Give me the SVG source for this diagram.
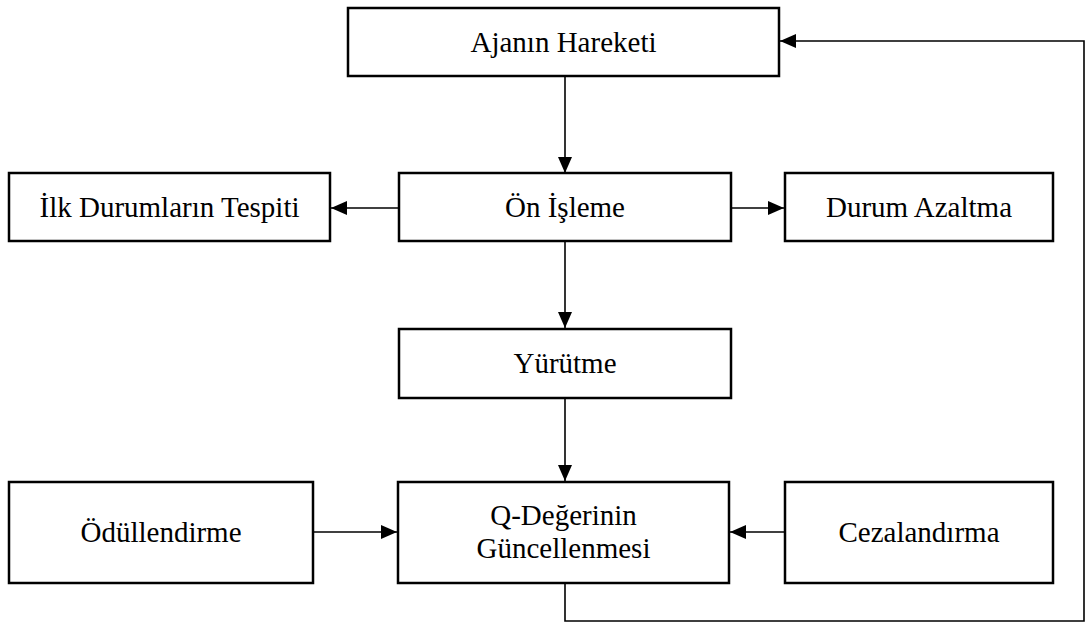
<svg xmlns="http://www.w3.org/2000/svg" width="1087" height="625" viewBox="0 0 1087 625">
  <style>
    .box { fill: #ffffff; stroke: #000000; stroke-width: 2.5; }
    .lbl { font-family: "Liberation Serif", "Times New Roman", serif; font-size: 29px; fill: #000000; text-anchor: middle; }
    .wire { fill: none; stroke: #000000; stroke-width: 1.6; }
  </style>
  <defs>
    <marker id="arrowL" viewBox="0 0 16 14" refX="16" refY="7" markerWidth="16" markerHeight="14" markerUnits="userSpaceOnUse" orient="auto">
      <path d="M0,0 L16,7 L0,14 z" fill="#000000"/>
    </marker>
  </defs>
  <rect width="1087" height="625" fill="#ffffff"/>

  <g id="connectors">
    <path class="wire" d="M565,76 L565,173" marker-end="url(#arrowL)"/>
    <path class="wire" d="M399,208 L331,208" marker-end="url(#arrowL)"/>
    <path class="wire" d="M731,208 L784,208" marker-end="url(#arrowL)"/>
    <path class="wire" d="M565,241 L565,328" marker-end="url(#arrowL)"/>
    <path class="wire" d="M565,398 L565,481" marker-end="url(#arrowL)"/>
    <path class="wire" d="M314,532 L397,532" marker-end="url(#arrowL)"/>
    <path class="wire" d="M785,532 L730,532" marker-end="url(#arrowL)"/>
    <path class="wire" d="M565,583 L565,621 L1084,621 L1084,41 L780,41" marker-end="url(#arrowL)"/>
  </g>

  <g id="node-ajan">
    <rect class="box" x="348" y="8" width="431" height="68"/>
    <text class="lbl" x="563.5" y="52">Ajanın Hareketi</text>
  </g>
  <g id="node-ilk">
    <rect class="box" x="9" y="173" width="321" height="68"/>
    <text class="lbl" x="169.5" y="217">İlk Durumların Tespiti</text>
  </g>
  <g id="node-on">
    <rect class="box" x="399" y="173" width="332" height="68"/>
    <text class="lbl" x="565" y="217">Ön İşleme</text>
  </g>
  <g id="node-durum">
    <rect class="box" x="785" y="173" width="268" height="68"/>
    <text class="lbl" x="919" y="217">Durum Azaltma</text>
  </g>
  <g id="node-yurutme">
    <rect class="box" x="399" y="329" width="332" height="69"/>
    <text class="lbl" x="565" y="373">Yürütme</text>
  </g>
  <g id="node-odul">
    <rect class="box" x="9" y="482" width="304" height="101"/>
    <text class="lbl" x="161" y="542">Ödüllendirme</text>
  </g>
  <g id="node-q">
    <rect class="box" x="398" y="482" width="331" height="101"/>
    <text class="lbl" x="563.5" y="525">Q-Değerinin</text>
    <text class="lbl" x="563.5" y="558">Güncellenmesi</text>
  </g>
  <g id="node-ceza">
    <rect class="box" x="785" y="482" width="268" height="101"/>
    <text class="lbl" x="919" y="542">Cezalandırma</text>
  </g>
</svg>
